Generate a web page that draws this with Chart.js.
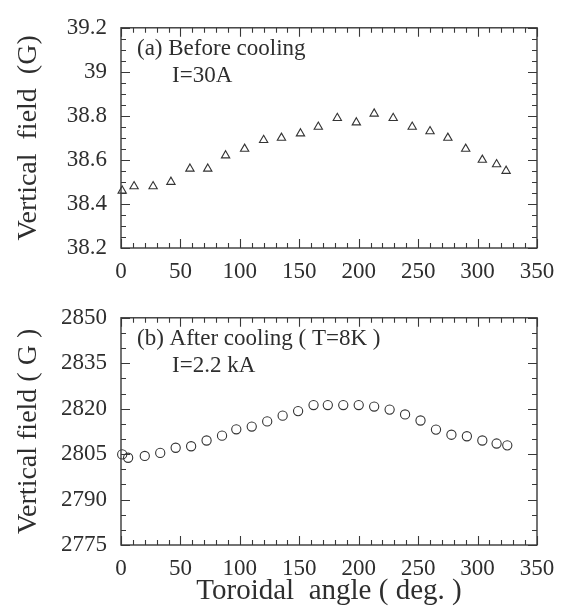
<!DOCTYPE html>
<html>
<head>
<meta charset="utf-8">
<script src="https://cdn.jsdelivr.net/npm/chart.js@4"></script>
<style>
  html, body { margin: 0; padding: 0; background: #fff; }
  canvas { display: block; }
</style>
</head>
<body>
<canvas id="c1" width="569" height="290"></canvas>
<canvas id="c2" width="569" height="320"></canvas>
<script>
// ---- Data ----
const anglesA = [1, 11, 27, 42, 58, 73, 88, 104, 120, 135, 151, 166, 182, 198, 213, 229, 245, 260, 275, 290, 304, 316, 324];
const fieldA  = [38.46, 38.48, 38.48, 38.50, 38.56, 38.56, 38.62, 38.65, 38.69, 38.70, 38.72, 38.75, 38.79, 38.77, 38.81, 38.79, 38.75, 38.73, 38.70, 38.65, 38.60, 38.58, 38.55];

const anglesB = [1, 6, 20, 33, 46, 59, 72, 85, 97, 110, 123, 136, 149, 162, 174, 187, 200, 213, 226, 239, 252, 265, 278, 291, 304, 316, 325];
const fieldB  = [2804.9, 2803.8, 2804.4, 2805.4, 2807.1, 2807.6, 2809.5, 2811.1, 2813.2, 2814.1, 2815.8, 2817.7, 2819.2, 2821.2, 2821.2, 2821.2, 2821.2, 2820.7, 2819.7, 2818.1, 2816.1, 2813.1, 2811.4, 2810.9, 2809.5, 2808.5, 2807.9];

const xTickValues = [0, 50, 100, 150, 200, 250, 300, 350];
const xTickLabels = ['0', '50', '100', '150', '200', '250', '300', '350'];
const yTickValuesA = [38.2, 38.4, 38.6, 38.8, 39.0, 39.2];
const yTickLabelsA = ['38.2', '38.4', '38.6', '38.8', '39', '39.2'];
const yTickValuesB = [2775, 2790, 2805, 2820, 2835, 2850];
const yTickLabelsB = ['2775', '2790', '2805', '2820', '2835', '2850'];

const titleA = ['(a) Before cooling', 'I=30A'];
const titleB = ['(b) After cooling ( T=8K )', 'I=2.2 kA'];
const yTitleA = 'Vertical  field  (G)';
const yTitleB = 'Vertical field ( G )';
const xTitle = 'Toroidal  angle ( deg. )';

const SERIF = '"Liberation Serif", "DejaVu Serif", serif';
const INK = '#2e2e2e';
const LINE = '#383838';

// frame + inward ticks on all four sides, plus panel annotations
function framePlugin(xMinorStep, yMinorStep, yMajorStep, notes) {
  return {
    id: 'frame',
    afterDraw(chart) {
      const ctx = chart.ctx;
      const a = chart.chartArea;
      const xs = chart.scales.x, ys = chart.scales.y;
      ctx.save();
      ctx.strokeStyle = LINE;
      ctx.lineWidth = 1.4;
      ctx.strokeRect(a.left, a.top, a.right - a.left, a.bottom - a.top);
      ctx.lineWidth = 1.1;
      ctx.beginPath();
      const eps = 1e-6;
      for (let v = xs.min; v <= xs.max + eps; v += xMinorStep) {
        const px = Math.round(xs.getPixelForValue(v)) + 0.5;
        const major = Math.abs(v / 50 - Math.round(v / 50)) < 1e-6;
        const L = major ? 9 : 5;
        ctx.moveTo(px, a.bottom); ctx.lineTo(px, a.bottom - L);
        ctx.moveTo(px, a.top); ctx.lineTo(px, a.top + L);
      }
      const n = Math.round((ys.max - ys.min) / yMinorStep);
      const perMajor = Math.round(yMajorStep / yMinorStep);
      for (let i = 0; i <= n; i++) {
        const v = ys.min + i * yMinorStep;
        const py = Math.round(ys.getPixelForValue(v)) + 0.5;
        const L = (i % perMajor === 0) ? 9 : 5;
        ctx.moveTo(a.left, py); ctx.lineTo(a.left + L, py);
        ctx.moveTo(a.right, py); ctx.lineTo(a.right - L, py);
      }
      ctx.stroke();
      ctx.fillStyle = INK;
      ctx.font = '23px ' + SERIF;
      ctx.textBaseline = 'middle';
      ctx.textAlign = 'left';
      ctx.fillText(notes[0], a.left + 16, a.top + 21);
      ctx.fillText(notes[1], a.left + 51, a.top + 48);
      ctx.restore();
    }
  };
}

function makeChart(id, xs, ys, style, yMin, yMax, yVals, yLabs, yTitle, radius, notes, yMinor, yMajor, opts) {
  const pts = xs.map((x, i) => ({ x: x, y: ys[i] }));
  return new Chart(document.getElementById(id), {
    type: 'scatter',
    data: {
      datasets: [{
        data: pts,
        pointStyle: style,
        pointRadius: radius,
        pointHoverRadius: radius,
        pointBorderWidth: 1.1,
        borderColor: '#333333',
        backgroundColor: 'rgba(255,255,255,0)',
        showLine: false,
        clip: false
      }]
    },
    options: {
      responsive: false,
      animation: false,
      events: [],
      layout: { padding: { top: opts.top, right: 32, left: 0, bottom: 0 } },
      plugins: { legend: { display: false }, tooltip: { enabled: false } },
      scales: {
        x: {
          type: 'linear',
          min: 0, max: 350,
          afterFit(s) { s.height = opts.xh; },
          afterBuildTicks(s) { s.ticks = xTickValues.map(v => ({ value: v })); },
          grid: { display: false, drawTicks: false },
          border: { display: false },
          ticks: {
            padding: opts.xpad,
            color: INK,
            font: { family: SERIF, size: 23 },
            maxRotation: 0,
            callback: (v) => { const i = xTickValues.indexOf(v); return i >= 0 ? xTickLabels[i] : ''; }
          },
          title: opts.xTitle ? {
            display: true, text: xTitle, color: INK,
            font: { family: SERIF, size: 29 },
            padding: { top: 0, bottom: opts.xTitlePad }
          } : { display: false }
        },
        y: {
          type: 'linear',
          min: yMin, max: yMax,
          afterFit(s) { s.width = 121; },
          afterBuildTicks(s) { s.ticks = yVals.map(v => ({ value: v })); },
          grid: { display: false, drawTicks: false },
          border: { display: false },
          ticks: {
            padding: 14,
            color: INK,
            font: { family: SERIF, size: 23 },
            callback: (v) => { const i = yVals.findIndex(t => Math.abs(t - v) < 1e-9); return i >= 0 ? yLabs[i] : ''; }
          },
          title: {
            display: true, text: yTitle, color: INK,
            font: { family: SERIF, size: 28 },
            padding: { top: 12, bottom: 0 }
          }
        }
      }
    },
    plugins: [framePlugin(10, yMinor, yMajor, notes)]
  });
}

makeChart('c1', anglesA, fieldA, 'triangle', 38.2, 39.2, yTickValuesA, yTickLabelsA, yTitleA, 4.8, titleA, 0.05, 0.2,
  { top: 22, xh: 42, xpad: 10, xTitle: false });
makeChart('c2', anglesB, fieldB, 'circle', 2775, 2850, yTickValuesB, yTickLabelsB, yTitleB, 4.6, titleB, 5, 15,
  { top: 25, xh: 65, xpad: 10, xTitle: true, xTitlePad: 1 });
</script>
</body>
</html>
